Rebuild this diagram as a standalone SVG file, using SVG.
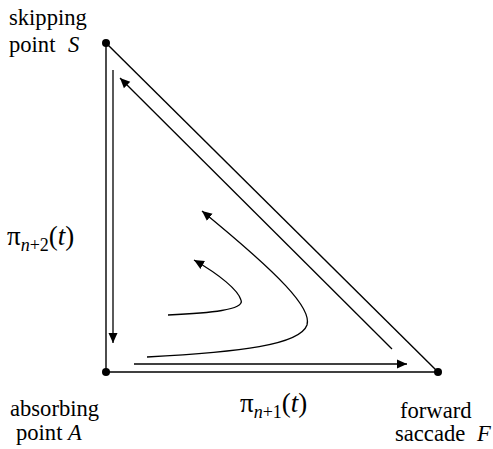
<svg xmlns="http://www.w3.org/2000/svg" width="493" height="449" viewBox="0 0 493 449">
<style>
text{font-family:'Liberation Serif','DejaVu Serif','Noto Serif',serif;font-size:22.6px;fill:#000}
.it{font-style:italic}
.big{font-size:27px}
.sub{font-style:italic;font-size:18px}
.subr{font-size:18px}
.edge{stroke:#000;stroke-width:1.4;fill:none}
.arr{stroke:#000;stroke-width:1.3;fill:none;marker-end:url(#ah)}
</style>
<defs>
<marker id="ah" viewBox="0 0 10 10" refX="10" refY="5" markerWidth="10" markerHeight="10" markerUnits="userSpaceOnUse" orient="auto">
<path d="M0,0.5 L10,5 L0,9.5 z" fill="#000"/>
</marker>
</defs>
<g id="connectors">
<line class="edge" x1="106" y1="43" x2="106" y2="372"/>
<line class="edge" x1="106" y1="372" x2="438" y2="372"/>
<line class="edge" x1="106" y1="43" x2="438" y2="372"/>
<line class="arr" x1="113" y1="70" x2="113" y2="343"/>
<line class="arr" x1="134" y1="364" x2="407" y2="364"/>
<line class="arr" x1="392" y1="349" x2="120" y2="78"/>
<path class="arr" d="M147,357 C240,352 300,345 307,325 C312,308 280,275 202,211"/>
<path class="arr" d="M168,315 C210,313 245,310 241,300 C238,290 220,275 194,260"/>
</g>
<g id="node-S">
<circle cx="106" cy="43" r="4"/>
<text x="9" y="25">skipping</text>
<text x="9" y="52">point <tspan class="it" dx="7">S</tspan></text>
</g>
<g id="node-A">
<circle cx="106" cy="372" r="4"/>
<text x="10" y="416">absorbing</text>
<text x="16" y="440">point <tspan class="it">A</tspan></text>
</g>
<g id="node-F">
<circle cx="438" cy="372" r="4"/>
<text x="400" y="418">forward</text>
<text x="395" y="441">saccade <tspan class="it" dx="6">F</tspan></text>
</g>
<g id="label-pi-n2">
<text class="big" x="7" y="245">π<tspan class="sub" dy="6">n</tspan><tspan class="subr">+2</tspan><tspan dy="-6">(</tspan><tspan class="it">t</tspan>)</text>
</g>
<g id="label-pi-n1">
<text class="big" x="240" y="412">π<tspan class="sub" dy="6">n</tspan><tspan class="subr">+1</tspan><tspan dy="-6">(</tspan><tspan class="it">t</tspan>)</text>
</g>
</svg>
